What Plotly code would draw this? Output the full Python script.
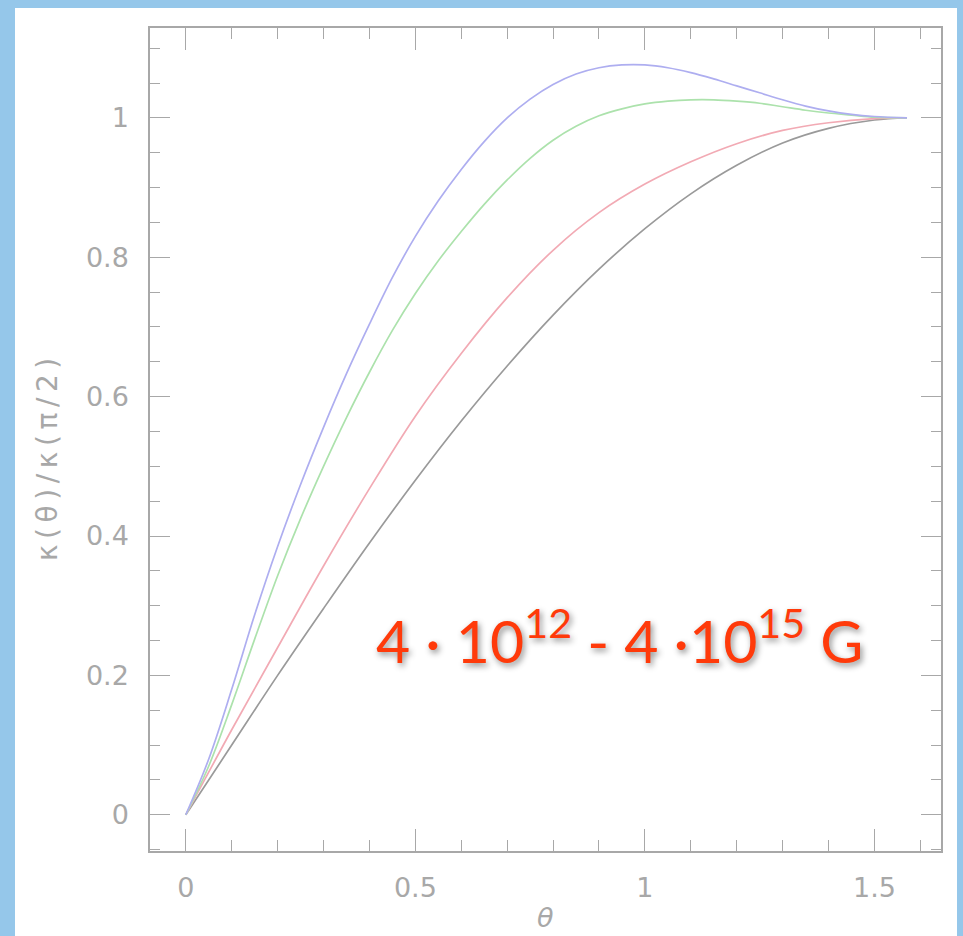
import plotly.graph_objects as go

# ---- data ----
theta_blue = [0, 0.05, 0.1, 0.15, 0.2, 0.25, 0.3, 0.35, 0.4, 0.45, 0.5, 0.55, 0.6, 0.65, 0.7, 0.75,
              0.8, 0.85, 0.9, 0.95, 1.0, 1.05, 1.1, 1.15, 1.2, 1.25, 1.3, 1.35, 1.4, 1.45, 1.5, 1.571]
kappa_blue = [0, 0.08, 0.18, 0.287, 0.385, 0.474, 0.556, 0.633, 0.704, 0.771, 0.83, 0.881, 0.926, 0.966, 1.0, 1.027,
              1.048, 1.063, 1.072, 1.076, 1.076, 1.072, 1.065, 1.056, 1.046, 1.036, 1.026, 1.017, 1.010, 1.005, 1.002, 1.0]

theta_green = [0, 0.05, 0.1, 0.15, 0.2, 0.25, 0.3, 0.35, 0.4, 0.45, 0.5, 0.55, 0.6, 0.65, 0.7, 0.75,
               0.8, 0.85, 0.9, 0.95, 1.0, 1.05, 1.1, 1.15, 1.2, 1.25, 1.3, 1.35, 1.4, 1.45, 1.5, 1.571]
kappa_green = [0, 0.07, 0.158, 0.252, 0.343, 0.425, 0.50, 0.57, 0.635, 0.695, 0.748, 0.795, 0.837, 0.876, 0.911, 0.942,
               0.968, 0.988, 1.003, 1.013, 1.020, 1.024, 1.026, 1.026, 1.024, 1.021, 1.016, 1.011, 1.007, 1.004, 1.001, 1.0]

theta_red = [0, 0.1, 0.2, 0.3, 0.4, 0.5, 0.6, 0.7, 0.8, 0.9, 1.0, 1.1, 1.2, 1.3, 1.4, 1.5, 1.571]
kappa_red = [0, 0.122, 0.240, 0.357, 0.468, 0.572, 0.662, 0.742, 0.810, 0.864, 0.905, 0.937, 0.963, 0.982, 0.993, 0.999, 1.0]

theta_black = [0, 0.1, 0.2, 0.3, 0.4, 0.5, 0.6, 0.7, 0.8, 0.9, 1.0, 1.1, 1.2, 1.3, 1.4, 1.5, 1.571]
kappa_black = [0, 0.10, 0.20, 0.296, 0.39, 0.48, 0.565, 0.644, 0.717, 0.783, 0.841, 0.891, 0.932, 0.964, 0.985, 0.997, 1.0]

x_ticks = [0, 0.5, 1, 1.5]
x_ticklabels = ["0", "0.5", "1", "1.5"]
y_ticks = [0, 0.2, 0.4, 0.6, 0.8, 1]
y_ticklabels = ["0", "0.2", "0.4", "0.6", "0.8", "1"]

series = [
    (theta_black, kappa_black, "#9a9a9a"),
    (theta_red, kappa_red, "#f2aab4"),
    (theta_green, kappa_green, "#ace2ac"),
    (theta_blue, kappa_blue, "#aeaef0"),
]

fig = go.Figure()
for tx, ky, col in series:
    fig.add_trace(go.Scatter(x=tx, y=ky, mode="lines",
                             line=dict(color=col, width=1.7, shape="spline", smoothing=1.0),
                             showlegend=False, hoverinfo="skip"))

axis_col = "#a8a8a8"
label_col = "#a8a8a8"
tick_font = dict(family="DejaVu Sans, Liberation Sans, sans-serif", size=27, color=label_col)

fig.update_xaxes(range=[-0.078, 1.645], showgrid=False, zeroline=False,
                 showline=True, linecolor=axis_col, linewidth=1.5, mirror="allticks",
                 ticks="inside", ticklen=22, tickwidth=1.2, tickcolor=axis_col,
                 tickvals=x_ticks, ticktext=x_ticklabels, tickfont=tick_font,
                 ticklabelstandoff=12,
                 minor=dict(ticks="inside", dtick=0.1, tick0=0, ticklen=11,
                            tickcolor=axis_col, tickwidth=1.2, showgrid=False))
fig.update_yaxes(range=[-0.052, 1.129], showgrid=False, zeroline=False,
                 showline=True, linecolor=axis_col, linewidth=1.5, mirror="allticks",
                 ticks="inside", ticklen=20, tickwidth=1.2, tickcolor=axis_col,
                 tickvals=y_ticks, ticktext=y_ticklabels, tickfont=tick_font,
                 ticklabelstandoff=14,
                 minor=dict(ticks="inside", dtick=0.05, tick0=0, ticklen=10,
                            tickcolor=axis_col, tickwidth=1.2, showgrid=False))

# white panel over blue background
fig.add_shape(type="rect", xref="paper", yref="paper",
              x0=(15 - 150) / 791, x1=(957 - 150) / 791,
              y0=(851 - 940) / 823, y1=(851 - 8) / 823,
              fillcolor="white", line=dict(width=0), layer="below")

fig.add_annotation(text="κ\u2009(\u2009θ\u2009)\u2009/\u2009κ\u2009(\u2009π\u2009/\u20092\u2009)",
                   xref="paper", yref="paper",
                   x=(47 - 150) / 791, y=(851 - 460) / 823, textangle=-90,
                   showarrow=False, xanchor="center", yanchor="middle",
                   font=dict(family="DejaVu Sans, Liberation Sans, sans-serif", size=28, color=label_col))
fig.add_annotation(text="<i>θ</i>", xref="paper", yref="paper",
                   x=(545 - 150) / 791, y=(851 - 917) / 823,
                   showarrow=False, xanchor="center", yanchor="middle",
                   font=dict(family="DejaVu Sans, Liberation Sans, sans-serif", size=27, color=label_col))

fig.add_annotation(text="4 · 10<sup>12</sup> - 4 ·10<sup>15</sup> G", x=0.944, y=0.256,
                   xref="x", yref="y", showarrow=False, xanchor="center", yanchor="middle",
                   font=dict(family="Lato, Open Sans, sans-serif", size=59, color="#ff3a0a",
                             shadow="2px 3px 6px rgba(0,0,0,0.45)"))

fig.update_layout(width=963, height=936,
                  margin=dict(l=150, r=22, t=28, b=85),
                  paper_bgcolor="#95c7ea", plot_bgcolor="white")

fig.write_html("out.html")
